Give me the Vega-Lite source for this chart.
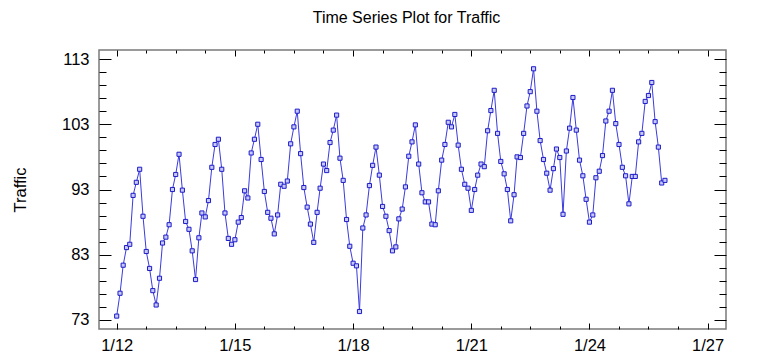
{
  "$schema": "https://vega.github.io/schema/vega-lite/v6.json",
  "width": 627,
  "height": 279,
  "autosize": {"type": "none"},
  "padding": {"left": 99, "top": 50, "right": 33, "bottom": 35},
  "background": "white",
  "config": {
    "view": {"stroke": "#7a7a7a", "strokeWidth": 1.5},
    "font": "Liberation Sans",
    "axis": {
      "domain": false,
      "grid": false,
      "labelFont": "Liberation Sans",
      "labelFontSize": 16.5,
      "labelColor": "black",
      "tickColor": "black",
      "tickWidth": 1,
      "titleFont": "Liberation Sans",
      "titleFontSize": 16.5,
      "titleFontWeight": "normal",
      "titleColor": "black",
      "labelFlush": false,
      "labelOverlap": false
    }
  },
  "title": {
    "text": "Time Series Plot for Traffic",
    "font": "Liberation Sans",
    "fontSize": 16,
    "fontWeight": "normal",
    "color": "black",
    "offset": 24,
    "dx": -6
  },
  "data": {
    "values": [
      {"date": "2012-01-01", "Traffic": 73.6}, {"date": "2012-02-01", "Traffic": 77.1}, {"date": "2012-03-01", "Traffic": 81.4}, {"date": "2012-04-01", "Traffic": 84.1}, {"date": "2012-05-01", "Traffic": 84.6}, {"date": "2012-06-01", "Traffic": 92.1}, {"date": "2012-07-01", "Traffic": 94.1}, {"date": "2012-08-01", "Traffic": 96.1}, {"date": "2012-09-01", "Traffic": 88.9}, {"date": "2012-10-01", "Traffic": 83.5}, {"date": "2012-11-01", "Traffic": 80.9}, {"date": "2012-12-01", "Traffic": 77.5},
      {"date": "2013-01-01", "Traffic": 75.3}, {"date": "2013-02-01", "Traffic": 79.4}, {"date": "2013-03-01", "Traffic": 84.8}, {"date": "2013-04-01", "Traffic": 85.7}, {"date": "2013-05-01", "Traffic": 87.6}, {"date": "2013-06-01", "Traffic": 93.0}, {"date": "2013-07-01", "Traffic": 95.3}, {"date": "2013-08-01", "Traffic": 98.4}, {"date": "2013-09-01", "Traffic": 92.9}, {"date": "2013-10-01", "Traffic": 88.1}, {"date": "2013-11-01", "Traffic": 86.9}, {"date": "2013-12-01", "Traffic": 83.6},
      {"date": "2014-01-01", "Traffic": 79.2}, {"date": "2014-02-01", "Traffic": 85.6}, {"date": "2014-03-01", "Traffic": 89.4}, {"date": "2014-04-01", "Traffic": 88.8}, {"date": "2014-05-01", "Traffic": 91.3}, {"date": "2014-06-01", "Traffic": 96.4}, {"date": "2014-07-01", "Traffic": 99.9}, {"date": "2014-08-01", "Traffic": 100.7}, {"date": "2014-09-01", "Traffic": 96.1}, {"date": "2014-10-01", "Traffic": 89.4}, {"date": "2014-11-01", "Traffic": 85.5}, {"date": "2014-12-01", "Traffic": 84.6},
      {"date": "2015-01-01", "Traffic": 85.3}, {"date": "2015-02-01", "Traffic": 88.0}, {"date": "2015-03-01", "Traffic": 88.7}, {"date": "2015-04-01", "Traffic": 92.8}, {"date": "2015-05-01", "Traffic": 91.7}, {"date": "2015-06-01", "Traffic": 98.6}, {"date": "2015-07-01", "Traffic": 100.7}, {"date": "2015-08-01", "Traffic": 103.0}, {"date": "2015-09-01", "Traffic": 97.6}, {"date": "2015-10-01", "Traffic": 92.7}, {"date": "2015-11-01", "Traffic": 89.5}, {"date": "2015-12-01", "Traffic": 88.6},
      {"date": "2016-01-01", "Traffic": 86.2}, {"date": "2016-02-01", "Traffic": 89.1}, {"date": "2016-03-01", "Traffic": 93.8}, {"date": "2016-04-01", "Traffic": 93.5}, {"date": "2016-05-01", "Traffic": 94.3}, {"date": "2016-06-01", "Traffic": 100.0}, {"date": "2016-07-01", "Traffic": 102.6}, {"date": "2016-08-01", "Traffic": 105.0}, {"date": "2016-09-01", "Traffic": 98.5}, {"date": "2016-10-01", "Traffic": 93.3}, {"date": "2016-11-01", "Traffic": 90.3}, {"date": "2016-12-01", "Traffic": 87.7},
      {"date": "2017-01-01", "Traffic": 84.9}, {"date": "2017-02-01", "Traffic": 89.5}, {"date": "2017-03-01", "Traffic": 93.2}, {"date": "2017-04-01", "Traffic": 96.9}, {"date": "2017-05-01", "Traffic": 95.9}, {"date": "2017-06-01", "Traffic": 100.2}, {"date": "2017-07-01", "Traffic": 102.1}, {"date": "2017-08-01", "Traffic": 104.4}, {"date": "2017-09-01", "Traffic": 97.8}, {"date": "2017-10-01", "Traffic": 94.4}, {"date": "2017-11-01", "Traffic": 88.4}, {"date": "2017-12-01", "Traffic": 84.3},
      {"date": "2018-01-01", "Traffic": 81.7}, {"date": "2018-02-01", "Traffic": 81.3}, {"date": "2018-03-01", "Traffic": 74.3}, {"date": "2018-04-01", "Traffic": 87.1}, {"date": "2018-05-01", "Traffic": 89.1}, {"date": "2018-06-01", "Traffic": 93.6}, {"date": "2018-07-01", "Traffic": 96.7}, {"date": "2018-08-01", "Traffic": 99.5}, {"date": "2018-09-01", "Traffic": 95.2}, {"date": "2018-10-01", "Traffic": 90.4}, {"date": "2018-11-01", "Traffic": 88.9}, {"date": "2018-12-01", "Traffic": 86.7},
      {"date": "2019-01-01", "Traffic": 83.6}, {"date": "2019-02-01", "Traffic": 84.2}, {"date": "2019-03-01", "Traffic": 88.5}, {"date": "2019-04-01", "Traffic": 90.0}, {"date": "2019-05-01", "Traffic": 93.4}, {"date": "2019-06-01", "Traffic": 98.1}, {"date": "2019-07-01", "Traffic": 100.3}, {"date": "2019-08-01", "Traffic": 102.9}, {"date": "2019-09-01", "Traffic": 96.9}, {"date": "2019-10-01", "Traffic": 92.5}, {"date": "2019-11-01", "Traffic": 91.1}, {"date": "2019-12-01", "Traffic": 91.1},
      {"date": "2020-01-01", "Traffic": 87.7}, {"date": "2020-02-01", "Traffic": 87.6}, {"date": "2020-03-01", "Traffic": 92.8}, {"date": "2020-04-01", "Traffic": 97.5}, {"date": "2020-05-01", "Traffic": 99.9}, {"date": "2020-06-01", "Traffic": 103.3}, {"date": "2020-07-01", "Traffic": 102.6}, {"date": "2020-08-01", "Traffic": 104.5}, {"date": "2020-09-01", "Traffic": 99.8}, {"date": "2020-10-01", "Traffic": 96.1}, {"date": "2020-11-01", "Traffic": 93.8}, {"date": "2020-12-01", "Traffic": 93.2},
      {"date": "2021-01-01", "Traffic": 89.8}, {"date": "2021-02-01", "Traffic": 93.0}, {"date": "2021-03-01", "Traffic": 95.2}, {"date": "2021-04-01", "Traffic": 96.9}, {"date": "2021-05-01", "Traffic": 96.5}, {"date": "2021-06-01", "Traffic": 102.0}, {"date": "2021-07-01", "Traffic": 105.1}, {"date": "2021-08-01", "Traffic": 108.2}, {"date": "2021-09-01", "Traffic": 101.6}, {"date": "2021-10-01", "Traffic": 97.3}, {"date": "2021-11-01", "Traffic": 95.4}, {"date": "2021-12-01", "Traffic": 93.0},
      {"date": "2022-01-01", "Traffic": 88.2}, {"date": "2022-02-01", "Traffic": 92.2}, {"date": "2022-03-01", "Traffic": 98.0}, {"date": "2022-04-01", "Traffic": 97.9}, {"date": "2022-05-01", "Traffic": 101.6}, {"date": "2022-06-01", "Traffic": 105.8}, {"date": "2022-07-01", "Traffic": 108.0}, {"date": "2022-08-01", "Traffic": 111.5}, {"date": "2022-09-01", "Traffic": 105.0}, {"date": "2022-10-01", "Traffic": 100.5}, {"date": "2022-11-01", "Traffic": 97.6}, {"date": "2022-12-01", "Traffic": 95.5},
      {"date": "2023-01-01", "Traffic": 92.9}, {"date": "2023-02-01", "Traffic": 96.2}, {"date": "2023-03-01", "Traffic": 99.2}, {"date": "2023-04-01", "Traffic": 97.9}, {"date": "2023-05-01", "Traffic": 89.2}, {"date": "2023-06-01", "Traffic": 98.9}, {"date": "2023-07-01", "Traffic": 102.4}, {"date": "2023-08-01", "Traffic": 107.1}, {"date": "2023-09-01", "Traffic": 102.1}, {"date": "2023-10-01", "Traffic": 97.5}, {"date": "2023-11-01", "Traffic": 95.1}, {"date": "2023-12-01", "Traffic": 91.5},
      {"date": "2024-01-01", "Traffic": 88.0}, {"date": "2024-02-01", "Traffic": 89.1}, {"date": "2024-03-01", "Traffic": 94.8}, {"date": "2024-04-01", "Traffic": 95.8}, {"date": "2024-05-01", "Traffic": 98.2}, {"date": "2024-06-01", "Traffic": 103.5}, {"date": "2024-07-01", "Traffic": 105.0}, {"date": "2024-08-01", "Traffic": 108.2}, {"date": "2024-09-01", "Traffic": 103.1}, {"date": "2024-10-01", "Traffic": 99.9}, {"date": "2024-11-01", "Traffic": 96.4}, {"date": "2024-12-01", "Traffic": 95.1},
      {"date": "2025-01-01", "Traffic": 90.8}, {"date": "2025-02-01", "Traffic": 95.0}, {"date": "2025-03-01", "Traffic": 95.0}, {"date": "2025-04-01", "Traffic": 100.3}, {"date": "2025-05-01", "Traffic": 101.6}, {"date": "2025-06-01", "Traffic": 106.5}, {"date": "2025-07-01", "Traffic": 107.4}, {"date": "2025-08-01", "Traffic": 109.4}, {"date": "2025-09-01", "Traffic": 103.4}, {"date": "2025-10-01", "Traffic": 99.5}, {"date": "2025-11-01", "Traffic": 94.0}, {"date": "2025-12-01", "Traffic": 94.4}
    ]
  },
  "layer": [
    {
      "mark": {"type": "line", "color": "#3b3bdd", "strokeWidth": 1},
      "encoding": {
        "x": {
          "field": "date", "type": "temporal",
          "scale": {"type": "utc", "domain": [{"year": 2011, "month": 7, "date": 21, "utc": true}, {"year": 2027, "month": 6, "date": 20, "utc": true}], "nice": false},
          "axis": {
            "orient": "bottom",
            "title": null,
            "values": [
              {"year": 2012, "month": 1, "date": 1, "utc": true}, {"year": 2012, "month": 10, "date": 1, "utc": true}, {"year": 2013, "month": 7, "date": 1, "utc": true}, {"year": 2014, "month": 4, "date": 1, "utc": true},
              {"year": 2015, "month": 1, "date": 1, "utc": true}, {"year": 2015, "month": 10, "date": 1, "utc": true}, {"year": 2016, "month": 7, "date": 1, "utc": true}, {"year": 2017, "month": 4, "date": 1, "utc": true},
              {"year": 2018, "month": 1, "date": 1, "utc": true}, {"year": 2018, "month": 10, "date": 1, "utc": true}, {"year": 2019, "month": 7, "date": 1, "utc": true}, {"year": 2020, "month": 4, "date": 1, "utc": true},
              {"year": 2021, "month": 1, "date": 1, "utc": true}, {"year": 2021, "month": 10, "date": 1, "utc": true}, {"year": 2022, "month": 7, "date": 1, "utc": true}, {"year": 2023, "month": 4, "date": 1, "utc": true},
              {"year": 2024, "month": 1, "date": 1, "utc": true}, {"year": 2024, "month": 10, "date": 1, "utc": true}, {"year": 2025, "month": 7, "date": 1, "utc": true}, {"year": 2026, "month": 4, "date": 1, "utc": true},
              {"year": 2027, "month": 1, "date": 1, "utc": true}
            ],
            "labelExpr": "utcmonth(datum.value) == 0 ? utcFormat(datum.value, '%-m/%y') : ''",
            "tickSize": {"condition": {"test": "utcmonth(datum.value) == 0", "value": -6}, "value": -3},
            "labelPadding": 14
          }
        },
        "y": {
          "field": "Traffic", "type": "quantitative",
          "scale": {"domain": [71.62, 114.38], "nice": false, "zero": false},
          "axis": {
            "orient": "left",
            "title": "Traffic",
            "titlePadding": 33,
            "values": [73, 75, 77, 79, 81, 83, 85, 87, 89, 91, 93, 95, 97, 99, 101, 103, 105, 107, 109, 111, 113],
            "labelExpr": "(datum.value - 73) % 10 == 0 ? datum.label : ''",
            "tickSize": {"condition": {"test": "(datum.value - 73) % 10 == 0", "value": -12}, "value": -7},
            "labelPadding": 22
          }
        }
      }
    },
    {
      "mark": {"type": "point", "shape": "square", "filled": true, "fill": "#c8c8ff", "stroke": "#1c1cc8", "strokeWidth": 1, "size": 17, "opacity": 1},
      "encoding": {
        "x": {
          "field": "date", "type": "temporal",
          "scale": {"type": "utc", "domain": [{"year": 2011, "month": 7, "date": 21, "utc": true}, {"year": 2027, "month": 6, "date": 20, "utc": true}], "nice": false},
          "axis": {
            "orient": "top",
            "title": null,
            "labels": false,
            "values": [
              {"year": 2012, "month": 1, "date": 1, "utc": true}, {"year": 2012, "month": 10, "date": 1, "utc": true}, {"year": 2013, "month": 7, "date": 1, "utc": true}, {"year": 2014, "month": 4, "date": 1, "utc": true},
              {"year": 2015, "month": 1, "date": 1, "utc": true}, {"year": 2015, "month": 10, "date": 1, "utc": true}, {"year": 2016, "month": 7, "date": 1, "utc": true}, {"year": 2017, "month": 4, "date": 1, "utc": true},
              {"year": 2018, "month": 1, "date": 1, "utc": true}, {"year": 2018, "month": 10, "date": 1, "utc": true}, {"year": 2019, "month": 7, "date": 1, "utc": true}, {"year": 2020, "month": 4, "date": 1, "utc": true},
              {"year": 2021, "month": 1, "date": 1, "utc": true}, {"year": 2021, "month": 10, "date": 1, "utc": true}, {"year": 2022, "month": 7, "date": 1, "utc": true}, {"year": 2023, "month": 4, "date": 1, "utc": true},
              {"year": 2024, "month": 1, "date": 1, "utc": true}, {"year": 2024, "month": 10, "date": 1, "utc": true}, {"year": 2025, "month": 7, "date": 1, "utc": true}, {"year": 2026, "month": 4, "date": 1, "utc": true},
              {"year": 2027, "month": 1, "date": 1, "utc": true}
            ],
            "tickSize": {"condition": {"test": "utcmonth(datum.value) == 0", "value": -6}, "value": -3}
          }
        },
        "y": {
          "field": "Traffic", "type": "quantitative",
          "scale": {"domain": [71.62, 114.38], "nice": false, "zero": false},
          "axis": {
            "orient": "right",
            "title": null,
            "labels": false,
            "values": [73, 75, 77, 79, 81, 83, 85, 87, 89, 91, 93, 95, 97, 99, 101, 103, 105, 107, 109, 111, 113],
            "tickSize": {"condition": {"test": "(datum.value - 73) % 10 == 0", "value": -12}, "value": -7}
          }
        }
      }
    }
  ],
  "resolve": {"axis": {"x": "independent", "y": "independent"}}
}
